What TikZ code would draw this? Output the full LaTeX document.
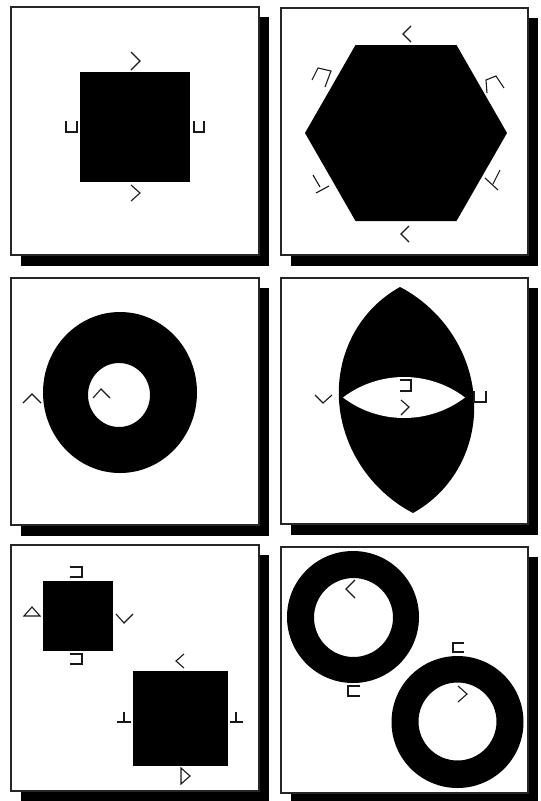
\documentclass[tikz,border=0pt]{standalone}
\begin{document}
\begin{tikzpicture}[x=1pt,y=-1pt,
  frame/.style={draw=black!85,line width=1.5pt,fill=white},
  shadowbox/.style={fill=black},
  blob/.style={fill=black},
  glyph/.style={draw=black!90,line width=1.1pt,line join=miter}]
\useasboundingbox (0,0) rectangle (541,801);
% panel frames with shadows
\foreach \x/\y/\X/\Y in {11/7/259/255, 281/8/528/255, 11/278/259/525, 281/278/528/524, 11/545/259/791, 281/547/528/793}{
  \fill[shadowbox] (\x+10,\y+10) rectangle (\X+10,\Y+11);
  \draw[frame] (\x,\y) rectangle (\X,\Y);
}
% ---------- panel 1: square ----------
\fill[blob] (80,72) rectangle (190,182);
\draw[glyph] (131,52)--(140,61)--(131,70);
\draw[glyph] (131,185)--(140,193)--(131,201);
\draw[glyph] (66,121)--(66,132)--(77,132)--(77,121);
\draw[glyph] (194,121)--(194,132)--(204,132)--(204,121);
% ---------- panel 2: hexagon ----------
\fill[blob] (507,133)--(456.5,45)--(355.5,45)--(305,133)--(355.5,221)--(456.5,221)--cycle;
\draw[glyph] (411,26)--(403,34)--(411,42);
\draw[glyph] (409,226)--(401,234)--(409,242);
\draw[glyph] (312,80)--(318,68)--(331,71)--(325,87);
\draw[glyph] (487,93)--(486,80)--(496,76)--(504,88);
\draw[glyph] (313,175)--(320,187);
\draw[glyph] (316,193)--(329,186);
\draw[glyph] (500,170)--(493,184);
\draw[glyph] (485,178)--(498,190);
% ---------- panel 3: oval ring ----------
\fill[blob,even odd rule] (120,392.5) ellipse[x radius=77,y radius=80.5]
  (119,395) ellipse[x radius=31,y radius=32];
\draw[glyph] (23,403)--(32,394)--(41,403);
\draw[glyph] (93,398)--(101,389)--(110,398);
% ---------- panel 4: lens ----------
\fill[blob] (400,287) .. controls (359.8,309.3) and (336.3,352.9) .. (339,400)
  .. controls (341.7,447.1) and (370.2,490.7) .. (413,513)
  .. controls (453.2,490.7) and (476.7,447.1) .. (474,400)
  .. controls (471.3,352.9) and (442.8,309.3) .. (400,287) -- cycle;
\fill[white] (343,397.5) .. controls (360.5,384.2) and (382,377) .. (404,377)
  .. controls (426,377) and (447.5,384.2) .. (465,397.5)
  .. controls (447.5,410.8) and (426,418) .. (404,418)
  .. controls (382,418) and (360.5,410.8) .. (343,397.5) -- cycle;
\draw[glyph] (315,395)--(323,403)--(332,395);
\draw[glyph] (400,380)--(411,380)--(411,391)--(400,391);
\draw[glyph] (401,400)--(409,407)--(401,415);
\draw[glyph] (474,391)--(474,402)--(486,402)--(486,391);
% ---------- panel 5: two squares ----------
\fill[blob] (43,581) rectangle (113,651);
\fill[blob] (133,671) rectangle (228,766);
\draw[glyph] (70,567)--(82,567)--(82,577)--(70,577);
\draw[glyph] (70,654)--(82,654)--(82,664)--(70,664);
\draw[glyph] (24,616)--(32,607)--(40,616)--cycle;
\draw[glyph] (116,614)--(124,623)--(133,614);
\draw[glyph] (184,654)--(176,661)--(184,668);
\draw[glyph] (124,712)--(124,722) (117,722)--(131,722);
\draw[glyph] (236,712)--(236,722) (230,722)--(243,722);
\draw[glyph] (181,768)--(190,776)--(181,784)--cycle;
% ---------- panel 6: two rings ----------
\fill[blob,even odd rule] (353,617) circle[radius=66] (353.5,617.5) circle[radius=39.5];
\fill[blob,even odd rule] (457.5,722) circle[radius=66] (457.5,721.5) circle[radius=39];
\draw[glyph] (355,580)--(346,589)--(355,598);
\draw[glyph] (360,686)--(348,686)--(348,696)--(360,696);
\draw[glyph] (464,643)--(453,643)--(453,652)--(464,652);
\draw[glyph] (458,686)--(467,694)--(458,702);
\end{tikzpicture}
\end{document}
